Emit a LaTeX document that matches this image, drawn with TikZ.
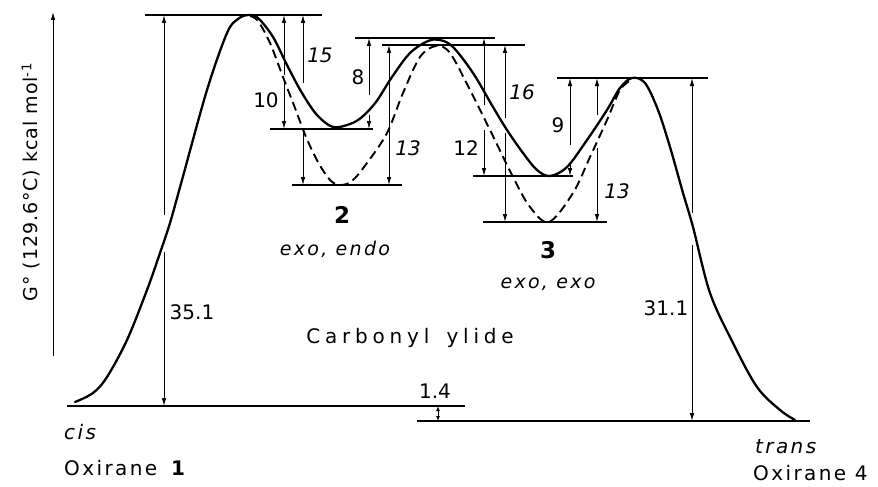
\documentclass[tikz,border=0pt]{standalone}
\usepackage{fontspec}
\setmainfont{DejaVu Sans}
\newfontfamily\wide[LetterSpace=12]{DejaVu Sans}
\newfontfamily\wider[LetterSpace=24]{DejaVu Sans}
\newfontfamily\axisfont[LetterSpace=5]{DejaVu Sans}
\usetikzlibrary{arrows.meta}

\begin{document}
\begin{tikzpicture}[x=1pt,y=-1pt,
    level/.style={line width=1.1pt},
    dim/.style={line width=0.9pt,-{Latex[length=8pt,width=4.5pt]}},
    every node/.style={font=\fontsize{20}{22}\selectfont,inner sep=0pt}]
    \useasboundingbox (0,0) rectangle (878,487);

    % Axis
    \draw[dim] (53,356) -- (53,12);
    \node[rotate=90] (ylab) at (31,182) {\axisfont\fontsize{19}{21}\selectfont G° (129.6°C) kcal mol\textsuperscript{-1}};

    % Energy levels
    \draw[level] (145,15) -- (322,15);    % TS 1
    \draw[level] (270,129) -- (373,129);  % ylide 2, solid
    \draw[level] (292,185) -- (402,185);  % ylide 2, dashed
    \draw[level] (355,38) -- (495,38);    % TS 2, solid
    \draw[level] (382,45) -- (525,45);    % TS 2, dashed
    \draw[level] (473,176) -- (573,176);  % ylide 3, solid
    \draw[level] (483,222) -- (607,222);  % ylide 3, dashed
    \draw[level] (557,78) -- (708,78);    % TS 3
    \draw[level] (67,406) -- (465,406);   % cis
    \draw[level] (417,421) -- (810,421);  % trans

    % Free energy curve
    \draw[line width=2.3pt, line join=round, line cap=round] plot[smooth, tension=0.55] coordinates {
        (75,402) (93,393) (107,377) (127,340) (147,290) (160,253) (170,223)
        (182,180) (207,90) (227,33) (238,19) (248,15) (258,18) (273,37)
        (288,67) (302,93) (317,115) (333,127) (350,124) (362,117) (376,102)
        (392,77) (410,53) (428,41) (440,40) (453,47) (473,73) (493,107) (507,130)
        (523,153) (537,170) (550,176) (567,167) (587,140) (607,110) (620,88)
        (632,78) (645,83) (658,110) (670,147) (683,193) (693,227) (710,293)
        (733,343) (757,387) (780,410) (795,420)};
    \draw[line width=1.9pt, dash pattern=on 9pt off 5pt] plot[smooth, tension=0.55] coordinates {
        (250,16) (258,21) (270,43) (283,77) (295,108) (306,137) (318,162)
        (330,180) (340,185) (352,181) (367,163) (387,133) (403,93) (420,57)
        (436,46) (450,53) (470,90) (490,130) (513,177) (530,207) (549,222)
        (573,193) (590,157) (607,120) (620,90) (631,80)};

    % Barriers, broken where the curve crosses
    \foreach \x/\t/\a/\b/\e in {164/15/215/252/406, 284/15/75/83/129,
        303/15/83/133/185, 369/38/95/115/129, 484/38/105/130/176,
        505/45/118/133/222, 570/78/145/165/176, 597/78/115/148/222,
        692/78/213/245/421} {
        \draw[dim] (\x,\a) -- (\x,\t);
        \draw[dim] (\x,\b) -- (\x,\e);
    }
    \draw[dim] (389,115) -- (389,45);
    \draw[dim] (389,115) -- (389,185);
    \draw[line width=0.9pt,{Latex[length=5pt,width=4pt]}-{Latex[length=5pt,width=4pt]}] (438,406) -- (438,421);

    % Barrier labels
    \node (e10) at (266,100) {10};
    \node (e15) at (320,55) {\itshape 15};
    \node (e8) at (358,77) {8};
    \node (e13a) at (408,148) {\itshape 13};
    \node (e12) at (466,148) {12};
    \node (e16) at (522,92) {\itshape 16};
    \node (e9) at (558,125) {9};
    \node (e13b) at (617,191) {\itshape 13};
    \node (e351) at (192,312) {35.1};
    \node (e311) at (666,308) {31.1};
    \node (e14) at (435,391) {1.4};

    % Species
    \node (y2) at (342,215) {\fontsize{23}{25}\selectfont\bfseries 2};
    \node (y2t) at (335,249) {\wide\fontsize{19}{21}\selectfont\itshape exo, endo};
    \node (y3) at (548,250) {\fontsize{23}{25}\selectfont\bfseries 3};
    \node (y3t) at (548,284) {\wide\fontsize{19}{21}\selectfont\itshape exo, exo};
    \node (ylide) at (410,338) {\wider Carbonyl\hspace{6pt} ylide};
    \node[anchor=west] (cis) at (64,432) {\wide\itshape cis};
    \node[anchor=west] (ox1) at (64,468) {\wide Oxirane\hspace{14pt}\bfseries 1};
    \node[anchor=west] (trans) at (755,447) {\wide\itshape trans};
    \node[anchor=west] (ox4) at (753,473) {\wide Oxirane 4};
\end{tikzpicture}
\end{document}
